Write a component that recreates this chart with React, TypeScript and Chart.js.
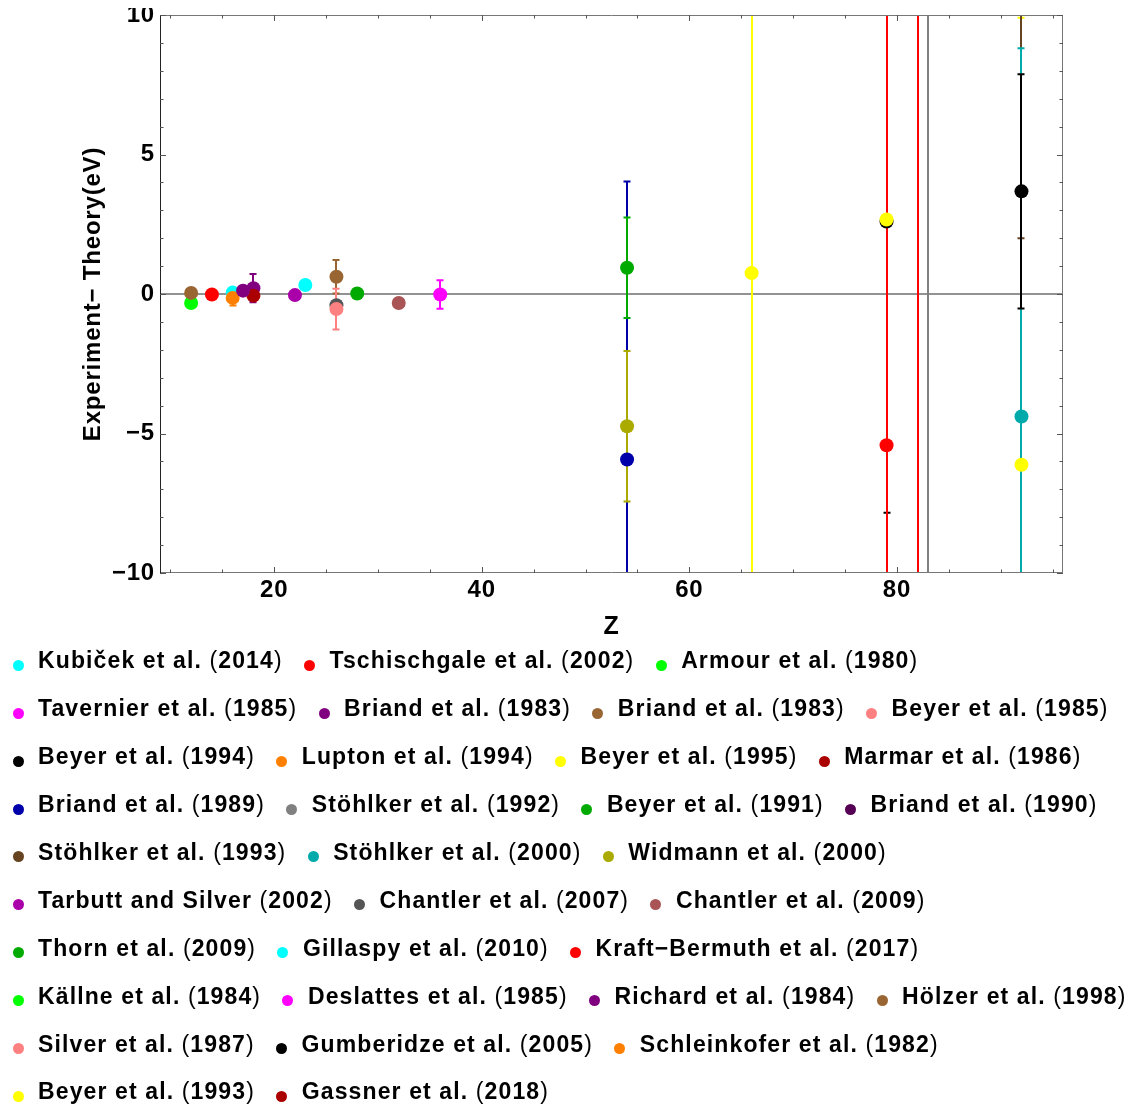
import React, { useEffect, useRef } from 'react';
import { Chart, registerables } from 'chart.js';

Chart.register(...registerables);

const FONT = '"Liberation Sans", Arial, Helvetica, sans-serif';

// Legend / series names (in legend order)
const seriesNames = [
  'Kubiček et al. (2014)', 'Tschischgale et al. (2002)', 'Armour et al. (1980)',
  'Tavernier et al. (1985)', 'Briand et al. (1983)', 'Briand et al. (1983)', 'Beyer et al. (1985)',
  'Beyer et al. (1994)', 'Lupton et al. (1994)', 'Beyer et al. (1995)', 'Marmar et al. (1986)',
  'Briand et al. (1989)', 'Stöhlker et al. (1992)', 'Beyer et al. (1991)', 'Briand et al. (1990)',
  'Stöhlker et al. (1993)', 'Stöhlker et al. (2000)', 'Widmann et al. (2000)',
  'Tarbutt and Silver (2002)', 'Chantler et al. (2007)', 'Chantler et al. (2009)',
  'Thorn et al. (2009)', 'Gillaspy et al. (2010)', 'Kraft\u2212Bermuth et al. (2017)',
  'Källne et al. (1984)', 'Deslattes et al. (1985)', 'Richard et al. (1984)', 'Hölzer et al. (1998)',
  'Silver et al. (1987)', 'Gumberidze et al. (2005)', 'Schleinkofer et al. (1982)',
  'Beyer et al. (1993)', 'Gassner et al. (2018)',
];

const seriesColors = [
  '#00FFFF', '#FF0000', '#00FF00',
  '#FF00FF', '#800080', '#996633', '#FF8080',
  '#000000', '#FF8000', '#FFFF00', '#AA0000',
  '#0000AA', '#808080', '#00AA00', '#550055',
  '#664422', '#00AAAA', '#AAAA00',
  '#AA00AA', '#555555', '#AA5555',
  '#00AA00', '#00FFFF', '#FF0000',
  '#00FF00', '#FF00FF', '#800080', '#996633',
  '#FF8080', '#000000', '#FF8000',
  '#FFFF00', '#AA0000',
];

// Atomic number Z of each measurement
const seriesZ = [
  [16], [14, 82], [12],
  [36], [18], [26], [],
  [79], [16], [79, 92], [18],
  [54], [83], [54], [],
  [92], [92], [54],
  [22], [26], [32],
  [28], [23], [79],
  [], [], [17], [12],
  [26], [92], [],
  [66], [],
];

// Experiment - Theory (eV)
const seriesY = [
  [0.05], [-0.02, 15], [-0.32],
  [-0.02], [0.21], [0.62], [],
  [2.6], [-0.14], [2.67, -6.12], [-0.06],
  [-5.93], [-14], [0.94], [],
  [14], [-4.39], [-4.74],
  [-0.04], [-0.4], [-0.32],
  [0.02], [0.32], [-5.42],
  [], [], [0.12], [0.04],
  [-0.54], [3.68], [],
  [0.75], [],
];

// Uncertainty (eV)
const seriesErr = [
  [0.05], [0.03, 30], [0.03],
  [0.51], [0.51], [0.6], [],
  [10.44], [0.27], [0, 16.02], [0.05],
  [9.96], [26], [1.8], [],
  [12], [13.2], [2.7],
  [0.03], [0.1], [0.03],
  [0.03], [0.15], [16],
  [], [], [0.03], [0.03],
  [0.73], [4.2], [],
  [20], [],
];

const xMajorTicks = [20, 40, 60, 80];
const xMinorTicks = [10, 15, 25, 30, 35, 45, 50, 55, 65, 70, 75, 85, 90, 95];
const yMajorTicks = [-10, -5, 0, 5, 10];
const yMinorTicks = [-9, -8, -7, -6, -4, -3, -2, -1, 1, 2, 3, 4, 6, 7, 8, 9];

const legendRows = [
  [0, 1, 2], [3, 4, 5, 6], [7, 8, 9, 10], [11, 12, 13, 14], [15, 16, 17],
  [18, 19, 20], [21, 22, 23], [24, 25, 26, 27], [28, 29, 30], [31, 32],
];

const errorBarPlugin = {
  id: 'errorBars',
  beforeDraw(chart: any) {
    chart.ctx.letterSpacing = '0.8px';
  },
  beforeDatasetsDraw(chart: any) {
    const { ctx, chartArea, scales } = chart;
    const x = scales.x;
    const y = scales.y;
    ctx.save();
    ctx.letterSpacing = '0px';
    ctx.beginPath();
    ctx.rect(chartArea.left, chartArea.top, chartArea.right - chartArea.left, chartArea.bottom - chartArea.top);
    ctx.clip();
    // zero line
    const y0 = Math.round(y.getPixelForValue(0));
    ctx.strokeStyle = '#6e6e6e';
    ctx.lineWidth = 1.6;
    ctx.beginPath();
    ctx.moveTo(chartArea.left, y0);
    ctx.lineTo(chartArea.right, y0);
    ctx.stroke();
    // error bars
    ctx.lineWidth = 2;
    seriesZ.forEach((zs, i) => {
      ctx.strokeStyle = seriesColors[i];
      zs.forEach((z, j) => {
        const e = seriesErr[i][j];
        if (!e) return;
        const px = Math.round(x.getPixelForValue(z));
        const pHi = y.getPixelForValue(seriesY[i][j] + e);
        const pLo = y.getPixelForValue(seriesY[i][j] - e);
        ctx.beginPath();
        ctx.moveTo(px, pHi);
        ctx.lineTo(px, pLo);
        ctx.moveTo(px - 3.5, pHi);
        ctx.lineTo(px + 3.5, pHi);
        ctx.moveTo(px - 3.5, pLo);
        ctx.lineTo(px + 3.5, pLo);
        ctx.stroke();
      });
    });
    ctx.restore();
  },
  afterDraw(chart: any) {
    const { ctx, chartArea, scales } = chart;
    const x = scales.x;
    const y = scales.y;
    const { left, right, top, bottom } = chartArea;
    ctx.save();
    ctx.letterSpacing = '0px';
    ctx.lineWidth = 1;
    ctx.strokeStyle = '#777777';
    ctx.beginPath();
    ctx.moveTo(left, top + 0.5);
    ctx.lineTo(right, top + 0.5);
    ctx.moveTo(right - 0.5, top);
    ctx.lineTo(right - 0.5, bottom);
    ctx.moveTo(left, bottom - 0.5);
    ctx.lineTo(right, bottom - 0.5);
    ctx.stroke();
    ctx.strokeStyle = '#222222';
    ctx.beginPath();
    ctx.moveTo(left + 0.5, top);
    ctx.lineTo(left + 0.5, bottom);
    ctx.stroke();
    ctx.strokeStyle = '#555555';
    const xt = (v: number, len: number) => {
      const p = Math.round(x.getPixelForValue(v)) + 0.5;
      ctx.moveTo(p, bottom);
      ctx.lineTo(p, bottom - len);
      ctx.moveTo(p, top);
      ctx.lineTo(p, top + len);
    };
    const yt = (v: number, len: number) => {
      const p = Math.round(y.getPixelForValue(v)) + 0.5;
      ctx.moveTo(left, p);
      ctx.lineTo(left + len, p);
      ctx.moveTo(right, p);
      ctx.lineTo(right - len, p);
    };
    ctx.beginPath();
    xMajorTicks.forEach((v) => xt(v, 6));
    xMinorTicks.forEach((v) => xt(v, 3.5));
    yMajorTicks.forEach((v) => yt(v, 6));
    yMinorTicks.forEach((v) => yt(v, 3.5));
    ctx.stroke();
    ctx.restore();
    ctx.letterSpacing = '0px';
  },
};

function ChartView() {
  const ref = useRef<HTMLCanvasElement | null>(null);
  useEffect(() => {
    if (!ref.current) return;
    const datasets = seriesNames.map((name, i) => ({
      label: name,
      data: seriesZ[i].map((z, j) => ({ x: z, y: seriesY[i][j] })),
      backgroundColor: seriesColors[i],
      borderColor: seriesColors[i],
      borderWidth: 0,
      pointRadius: 7,
      pointHoverRadius: 7,
      showLine: false,
      order: -i,
    }));
    const chart = new Chart(ref.current, {
      type: 'scatter',
      data: { datasets },
      plugins: [errorBarPlugin],
      options: {
        responsive: false,
        animation: false,
        events: [],
        layout: { padding: { left: 0, right: 62, top: 6, bottom: 0 } },
        plugins: { legend: { display: false }, tooltip: { enabled: false } },
        scales: {
          x: {
            type: 'linear',
            min: 9,
            max: 96,
            afterBuildTicks: (s: any) => {
              s.ticks = xMajorTicks.map((v) => ({ value: v }));
            },
            afterFit: (s: any) => {
              s.height = 75;
              s.paddingLeft = 0;
              s.paddingRight = 0;
            },
            grid: { display: false, drawTicks: false },
            border: { display: false },
            ticks: {
              padding: 3,
              color: '#000',
              autoSkip: false,
              maxRotation: 0,
              font: { family: FONT, size: 24, weight: 'bold' },
            },
            title: {
              display: true,
              text: 'Z',
              color: '#000',
              font: { family: FONT, size: 25, weight: 'bold' },
              padding: { top: 0, bottom: 6 },
            },
          },
          y: {
            type: 'linear',
            min: -10,
            max: 10,
            afterBuildTicks: (s: any) => {
              s.ticks = yMajorTicks.map((v) => ({ value: v }));
            },
            afterFit: (s: any) => {
              s.width = 152;
              s.paddingTop = 0;
              s.paddingBottom = 0;
            },
            grid: { display: false, drawTicks: false },
            border: { display: false },
            ticks: {
              padding: 5,
              color: '#000',
              autoSkip: false,
              callback: (v: any) => (Number(v) < 0 ? '\u2212' + Math.abs(Number(v)) : String(v)),
              font: { family: FONT, size: 24, weight: 'bold' },
            },
            title: {
              display: true,
              text: 'Experiment\u2212 Theory(eV)',
              color: '#000',
              font: { family: FONT, size: 24, weight: 'bold' },
              padding: { top: 70.6, bottom: 0 },
            },
          },
        },
      } as any,
    });
    return () => chart.destroy();
  }, []);
  return <canvas ref={ref} width={1117} height={640} style={{ display: 'block' }} />;
}

function LegendLabel({ name }: { name: string }) {
  const k = name.lastIndexOf('(');
  const before = name.slice(0, k);
  const inner = name.slice(k + 1, name.length - 1);
  return (
    <span style={{ marginLeft: 14.5, marginRight: 21.3 }}>
      {before}
      <span style={{ fontWeight: 400 }}>(</span>
      {inner}
      <span style={{ fontWeight: 400 }}>)</span>
    </span>
  );
}

export default function App() {
  return (
    <div style={{ position: 'relative', width: 1117, height: 1100 }}>
      <ChartView />
      <div
        style={{
          position: 'absolute',
          left: 0,
          top: 629,
          fontFamily: FONT,
          fontWeight: 700,
          fontSize: 23,
          letterSpacing: '1.12px',
          color: '#000',
        }}
      >
        {legendRows.map((row, r) => (
          <div key={r} style={{ height: 47.9, display: 'flex', alignItems: 'center', whiteSpace: 'nowrap' }}>
            {row.map((i, c) => (
              <span key={i} style={{ display: 'inline-flex', alignItems: 'center' }}>
                <span
                  style={{
                    display: 'inline-block',
                    width: 11,
                    height: 11,
                    borderRadius: '50%',
                    background: seriesColors[i],
                    marginLeft: c === 0 ? 4.5 : 0,
                    position: 'relative',
                    top: 4.4,
                  }}
                />
                <LegendLabel name={seriesNames[i]} />
              </span>
            ))}
          </div>
        ))}
      </div>
    </div>
  );
}
